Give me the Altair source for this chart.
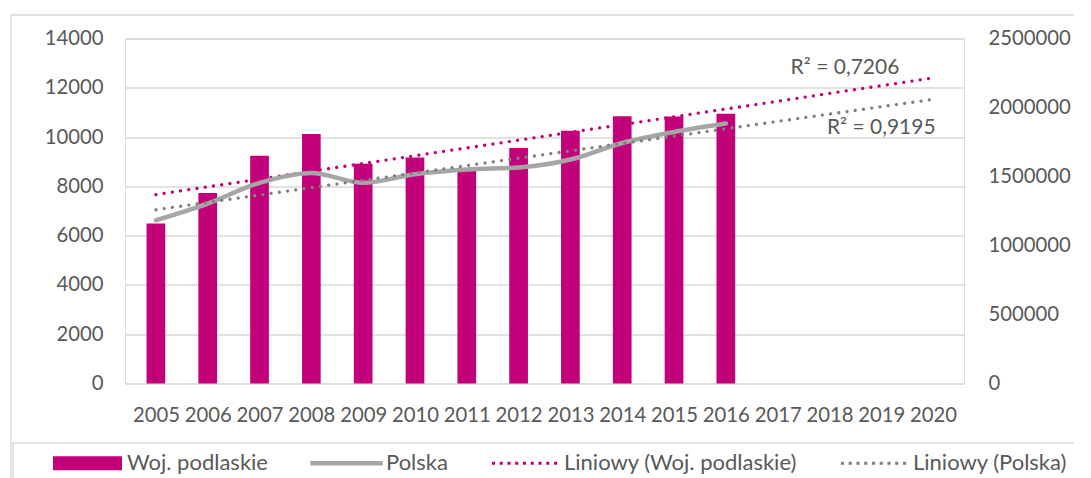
import altair as alt
import pandas as pd

# ---- data ----
years = list(range(2005, 2017))
podlaskie = [6490, 7730, 9240, 10120, 8920, 9170, 8700, 9555, 10255, 10850, 10835, 10945]
polska = [1183000, 1304000, 1454000, 1526000, 1454000, 1517000,
          1551000, 1565000, 1623000, 1743000, 1823000, 1884000]
tick_years = list(range(2005, 2021))
left_ticks = list(range(0, 14001, 2000))
right_ticks = list(range(0, 2500001, 500000))
series_names = ["Woj. podlaskie", "Polska", "Liniowy (Woj. podlaskie)", "Liniowy (Polska)"]
r2_labels = ["R² = 0,7206", "R² = 0,9195"]
r2_x = [2018.3, 2019.0]
r2_y = [12800, 10380]

# ---- styles ----
MAGENTA = "#C2007A"
LINE_GRAY = "#A6A6A6"
TREND_GRAY = "#808080"
TEXT = "#595959"
GRID = "#D9D9D9"
FONT = "Lato"
FS_AXIS = 20.3
FS_LEG = 22
FS_R2 = 21

df = pd.DataFrame({"year": years, "podlaskie": podlaskie, "polska": polska})
df_r2 = pd.DataFrame({"label": r2_labels, "year": r2_x, "podlaskie": r2_y})
df_leg = pd.DataFrame({"series": series_names})
df_one = pd.DataFrame({"k": [0]})


def dots(n, x0, x1, r):
    step = (x1 - x0) / (n - 1)
    parts = []
    for i in range(n):
        cx = x0 + i * step
        parts.append(f"M{cx - r:.3f},{-r:.3f}H{cx + r:.3f}V{r:.3f}H{cx - r:.3f}Z")
    return "".join(parts)


shape_paths = [
    "M-1,-0.2H1V0.2H-1Z",
    "M-1.05,-0.065H1.05V0.065H-1.05Z",
    dots(9, -0.9, 0.9, 0.045),
    dots(9, -0.9, 0.9, 0.045),
]
series_colors = [MAGENTA, LINE_GRAY, MAGENTA, TREND_GRAY]

X = alt.X(
    "year:Q",
    scale=alt.Scale(domain=[2004.5, 2020.5], nice=False, zero=False),
    axis=alt.Axis(values=tick_years, format="d", title=None, grid=False, domain=False,
                  ticks=False, labelPadding=22, labelFlush=False, labelFont=FONT,
                  labelFontSize=FS_AXIS, labelColor=TEXT),
)
YL = alt.Y(
    "podlaskie:Q",
    scale=alt.Scale(domain=[0, 14000], nice=False),
    axis=alt.Axis(values=left_ticks, format="d", title=None, orient="left", domain=False,
                  ticks=False, grid=True, gridColor=GRID, gridWidth=1.3, labelPadding=22,
                  labelFont=FONT, labelFontSize=FS_AXIS, labelColor=TEXT),
)
YR = alt.Y(
    "polska:Q",
    scale=alt.Scale(domain=[0, 2500000], nice=False),
    axis=alt.Axis(values=right_ticks, format="d", title=None, orient="right", domain=False,
                  ticks=False, grid=False, labelPadding=24,
                  labelFont=FONT, labelFontSize=FS_AXIS, labelColor=TEXT),
)

base = alt.Chart(df)

frame = alt.Chart(df_one).mark_rect(fillOpacity=0, stroke=GRID, strokeWidth=1.3, clip=False).encode(
    x=alt.value(-114), x2=alt.value(1100), y=alt.value(-23.5), y2=alt.value(600)
)
legend_box = alt.Chart(df_one).mark_rect(fillOpacity=0, stroke=GRID, strokeWidth=1.3, clip=False).encode(
    x=alt.value(-112), x2=alt.value(1100), y=alt.value(404.5), y2=alt.value(600)
)

bars = base.mark_bar(size=18.7, color=MAGENTA).encode(x=X, y=YL)
trend_l = base.transform_regression("year", "podlaskie", extent=[2005, 2020]).mark_line(
    color=MAGENTA, strokeWidth=3.3, strokeCap="round", strokeDash=[0.01, 8.3]
).encode(x=X, y=YL)
r2_text = alt.Chart(df_r2).mark_text(font=FONT, fontSize=FS_R2, color=TEXT).encode(
    x=X, y=YL, text="label:N"
)

leg = alt.Legend(
    orient="none", legendX=-72, legendY=390, direction="horizontal", title=None,
    labelFont=FONT, labelFontSize=FS_LEG, labelColor=TEXT, labelLimit=400,
    symbolSize=4761, symbolStrokeWidth=0, symbolOpacity=1, columnPadding=42,
    labelOffset=5, padding=0,
)
legend_layer = alt.Chart(df_leg).mark_point(filled=True, opacity=0).encode(
    x=alt.datum(2005), y=alt.datum(0),
    color=alt.Color("series:N", scale=alt.Scale(domain=series_names, range=series_colors), legend=leg),
    shape=alt.Shape("series:N", scale=alt.Scale(domain=series_names, range=shape_paths), legend=leg),
)

left = alt.layer(frame, legend_box, bars, trend_l, r2_text, legend_layer)

pl_line = base.mark_line(color=LINE_GRAY, strokeWidth=4.5, strokeCap="round",
                         strokeJoin="round", interpolate="monotone").encode(x=X, y=YR)
trend_r = base.transform_regression("year", "polska", extent=[2005, 2020]).mark_line(
    color=TREND_GRAY, strokeWidth=3.3, strokeCap="round", strokeDash=[0.01, 8.3]
).encode(x=X, y=YR)
right = alt.layer(pl_line, trend_r)

chart = alt.layer(left, right).resolve_scale(y="independent").properties(
    width=839, height=345,
    autosize=alt.AutoSizeParams(type="none"),
    padding={"left": 117, "top": 30.5, "right": 110, "bottom": 94},
).configure_view(stroke=None).configure(font=FONT, background="white")

chart.save("out.html", embed_options={"renderer": "svg", "actions": False})
